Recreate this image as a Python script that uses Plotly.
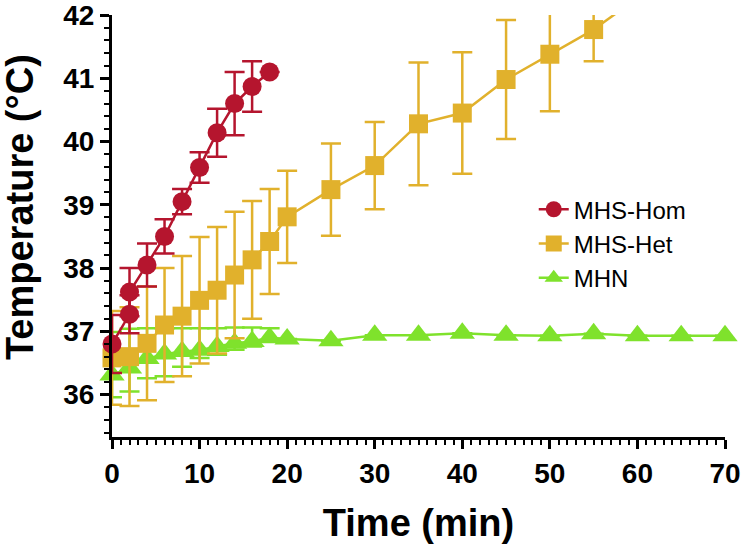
import plotly.graph_objects as go

# ---------------- data ----------------
hom_time = [0, 2, 2, 4, 6, 8, 10, 12, 14, 16, 18]
hom_temp = [36.80, 37.27, 37.62, 38.05, 38.50, 39.05, 39.59, 40.14, 40.60, 40.87, 41.10]
hom_err = [0.46, 0.30, 0.38, 0.34, 0.27, 0.20, 0.24, 0.38, 0.50, 0.40, 0.0]

het_time = [0, 2, 4, 6, 8, 10, 12, 14, 16, 18, 20, 25, 30, 35, 40, 45, 50, 55, 60]
het_temp = [36.58, 36.60, 36.81, 37.10, 37.24, 37.49, 37.65, 37.89, 38.13, 38.42,
            38.81, 39.24, 39.62, 40.28, 40.45, 40.98, 41.38, 41.77, 42.27]
het_err = [0.74, 0.78, 0.90, 0.90, 0.95, 1.00, 1.00, 1.00, 0.93, 0.83,
           0.73, 0.73, 0.69, 0.97, 0.96, 0.94, 0.90, 0.50, 0.0]

mhn_time = [0, 2, 4, 6, 8, 10, 12, 14, 16, 18, 20, 25, 30, 35, 40, 45, 50, 55, 60, 65, 70]
mhn_temp = [36.31, 36.42, 36.57, 36.64, 36.68, 36.70, 36.76, 36.81, 36.84, 36.90, 36.88,
            36.85, 36.94, 36.94, 36.97, 36.94, 36.93, 36.96, 36.93, 36.93, 36.93]
mhn_err_plus = [0.68, 0.62, 0.48, 0.41, 0.37, 0.35, 0.29, 0.25, 0.22, 0.15, 0,
                0, 0, 0, 0, 0, 0, 0, 0, 0, 0]
mhn_err_minus = [0.35, 0.37, 0.31, 0.35, 0.24, 0.12, 0.13, 0.10, 0.08, 0.06, 0,
                 0, 0, 0, 0, 0, 0, 0, 0, 0, 0]

x_ticks = [0, 10, 20, 30, 40, 50, 60, 70]
y_ticks = [36, 37, 38, 39, 40, 41, 42]

RED = "#B5152E"
GOLD = "#E1B12C"
GREEN = "#7FE22C"

fig = go.Figure()

# MHN (drawn first, underneath)
fig.add_trace(go.Scatter(
    x=mhn_time, y=mhn_temp, name="MHN", mode="lines+markers",
    line=dict(color=GREEN, width=2.5),
    marker=dict(symbol="triangle-up", size=22, color=GREEN),
    error_y=dict(type="data", array=mhn_err_plus, arrayminus=mhn_err_minus,
                 symmetric=False, color=GREEN, thickness=2.5, width=10),
    cliponaxis=False,
))

# MHS-Het continuation beyond the top of the axis (clipped)
fig.add_trace(go.Scatter(
    x=het_time[-2:], y=het_temp[-2:], mode="lines", showlegend=False,
    line=dict(color=GOLD, width=2.5), hoverinfo="skip", cliponaxis=True,
))

# MHS-Het
fig.add_trace(go.Scatter(
    x=het_time[:-1], y=het_temp[:-1], name="MHS-Het", mode="lines+markers",
    line=dict(color=GOLD, width=2.5),
    marker=dict(symbol="square", size=19, color=GOLD),
    error_y=dict(type="data", array=het_err[:-1], color=GOLD, thickness=2.5, width=10),
    cliponaxis=False,
))

# MHS-Hom (on top)
fig.add_trace(go.Scatter(
    x=hom_time, y=hom_temp, name="MHS-Hom", mode="lines+markers",
    line=dict(color=RED, width=2.5),
    marker=dict(symbol="circle", size=19, color=RED),
    error_y=dict(type="data", array=hom_err, color=RED, thickness=2.5, width=10),
    cliponaxis=False,
))

TICKFONT = dict(family="Liberation Sans, Arial, Helvetica", size=28, color="black", weight="bold")
TITLEFONT = dict(family="Liberation Sans, Arial, Helvetica", size=38,
                 color="black", weight="bold")

fig.update_layout(
    width=742, height=550,
    margin=dict(l=112, r=17, t=15, b=113, autoexpand=False),
    paper_bgcolor="white", plot_bgcolor="white",
    showlegend=True,
    legend=dict(
        x=0.688, y=0.592, xanchor="left", yanchor="top",
        traceorder="reversed",
        font=dict(family="Liberation Sans, Arial, Helvetica", size=24, color="black"),
        bgcolor="rgba(0,0,0,0)", itemwidth=30, tracegroupgap=0,
    ),
    xaxis=dict(
        range=[0, 70], tickmode="linear", tick0=x_ticks[0], dtick=x_ticks[1] - x_ticks[0],
        automargin=False, ticklabeloverflow="allow",
        showline=True, linewidth=3, linecolor="black",
        ticks="outside", ticklen=9, tickwidth=3, tickcolor="black",
        minor=dict(dtick=1, ticks="outside", ticklen=5, tickwidth=2, tickcolor="black"),
        showgrid=False, zeroline=False, tickfont=TICKFONT,
        title=dict(text="Time (min)", font=TITLEFONT, standoff=22),
    ),
    yaxis=dict(
        range=[35.33, 42], tickmode="linear", tick0=y_ticks[0], dtick=y_ticks[1] - y_ticks[0],
        automargin=False, ticklabeloverflow="allow",
        showline=True, linewidth=3, linecolor="black",
        ticks="outside", ticklen=9, tickwidth=3, tickcolor="black",
        minor=dict(dtick=0.2, ticks="outside", ticklen=5, tickwidth=2, tickcolor="black"),
        showgrid=False, zeroline=False, tickfont=TICKFONT,
    ),
    annotations=[dict(
        text="Temperature (°C)", textangle=-90, showarrow=False,
        xref="paper", yref="paper", x=-0.15, y=0.545,
        xanchor="center", yanchor="middle", font=TITLEFONT,
    )],
)

fig.write_html("out.html",
               config={"displayModeBar": False},
               post_script="document.body.style.margin='0';document.body.style.padding='0';")
